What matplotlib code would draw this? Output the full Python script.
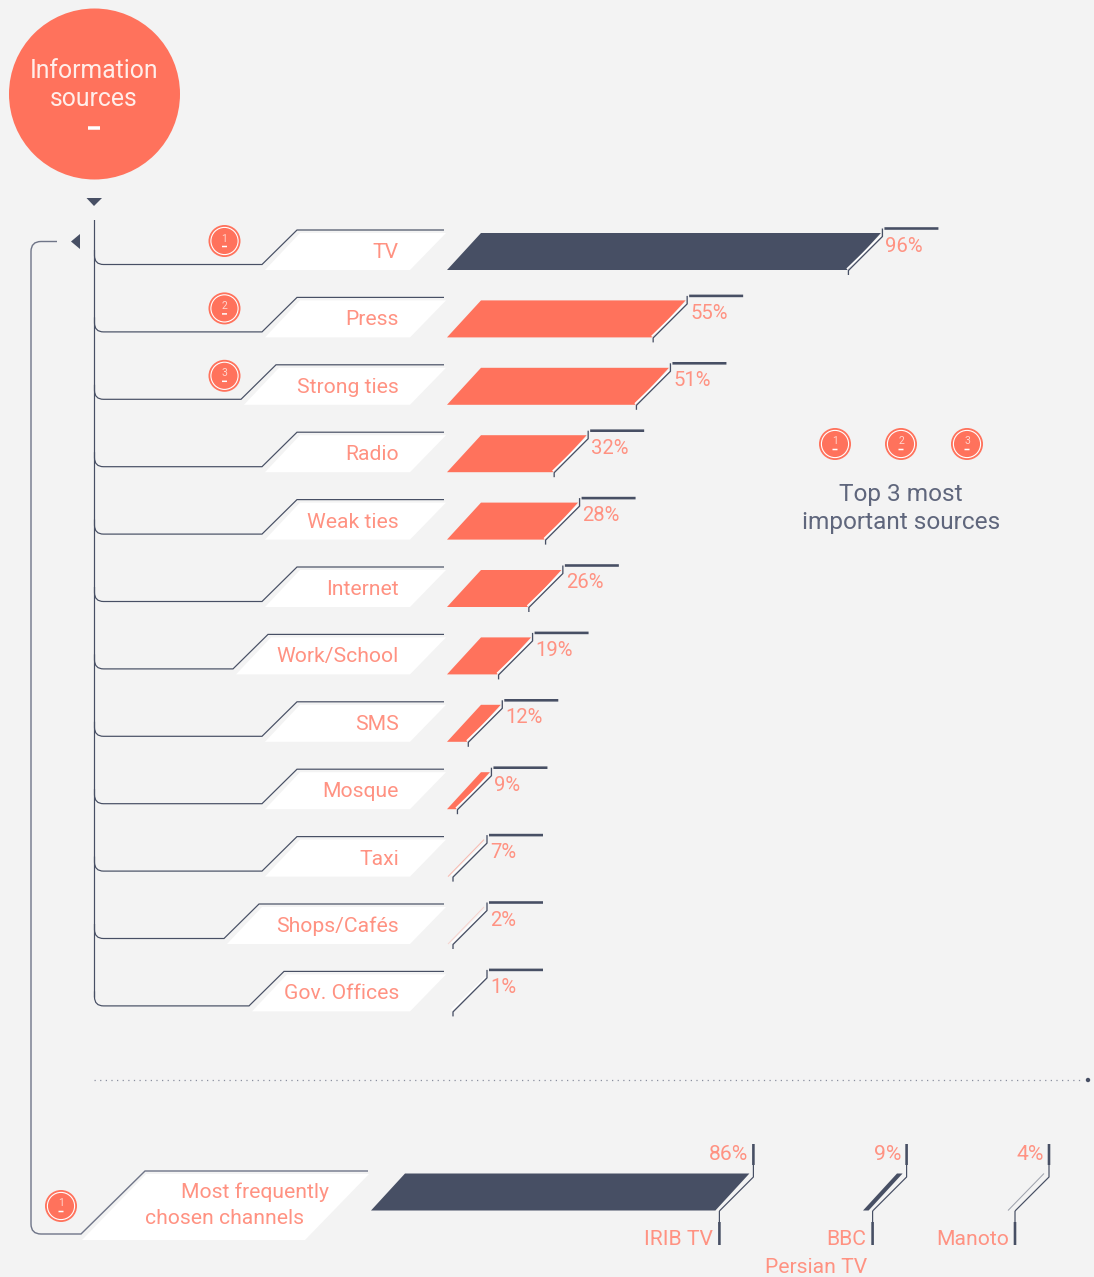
import matplotlib
matplotlib.use('Agg')
import matplotlib.pyplot as plt
from matplotlib.patches import Circle, Polygon, PathPatch
from matplotlib.path import Path

plt.rcParams['font.family'] = ['Roboto', 'DejaVu Sans']

# data
sources = ['TV', 'Press', 'Strong ties', 'Radio', 'Weak ties', 'Internet', 'Work/School',
           'SMS', 'Mosque', 'Taxi', 'Shops/Cafés', 'Gov. Offices']
source_labels = ['96%', '55%', '51%', '32%', '28%', '26%', '19%', '12%', '9%', '7%', '2%', '1%']
# bar lengths, they don't follow the labels exactly
source_lengths = [96, 52.8, 49.1, 30.9, 29.0, 25.3, 18.6, 11.9, 9.5, 7, 2, 1]
source_ranks = [1, 2, 3]

channels = ['IRIB TV', 'BBC', 'Manoto']
channel_labels = ['86%', '9%', '4%']
channel_lengths = [86, 9, 4]

# layout, pixels
PX = 0.72
BG = '#f3f3f3'
CORAL = '#ff725c'
SOFT = '#ff9282'
DARK = '#474f64'
ROW = 67.4
SLANT = 34
LABEL_SIZE = 15.2
PCT_SIZE = 14.6
plate_starts = [262, 262, 241, 262, 262, 262, 233, 262, 262, 262, 224, 249]
channel_starts = [371, 863, 1007]

fig = plt.figure(figsize=(10.94, 12.77), dpi=100, facecolor=BG)
ax = fig.add_axes([0, 0, 1, 1])
ax.set_xlim(0, 1094)
ax.set_ylim(1277, 0)
ax.axis('off')


def line(xs, ys, color=DARK, lw=1.0, alpha=1.0, z=3):
    ax.plot(xs, ys, color=color, lw=lw * PX, alpha=alpha, zorder=z, solid_capstyle='butt', snap=False)


def rounded(points, color=DARK, lw=1.2, alpha=1.0):
    # points are (x, y, corner radius) ; a corner is drawn as a quadratic curve
    verts, codes = [], []
    for i, (x, y, r) in enumerate(points):
        if r == 0:
            verts.append((x, y))
            codes.append(Path.MOVETO if i == 0 else Path.LINETO)
        else:
            px, py, _ = points[i - 1]
            nx, ny, _ = points[i + 1]
            sx = x + (r if px > x else -r if px < x else 0)
            sy = y + (r if py > y else -r if py < y else 0)
            ex = x + (r if nx > x else -r if nx < x else 0)
            ey = y + (r if ny > y else -r if ny < y else 0)
            verts += [(sx, sy), (x, y), (ex, ey)]
            codes += [Path.LINETO, Path.CURVE3, Path.CURVE3]
    ax.add_patch(PathPatch(Path(verts, codes), fc='none', ec=color, lw=lw * PX, alpha=alpha, zorder=3, snap=False))


def badge(x, y, rank):
    ax.add_patch(Circle((x, y), 16, fc=CORAL, ec='none', zorder=4))
    ax.add_patch(Circle((x, y), 13.6, fc='none', ec='white', lw=1.1 * PX, zorder=5))
    ax.text(x, y - 2.5, str(rank), color='#ffd5cd', fontsize=7.5, ha='center', va='center', zorder=6)
    line([x - 2.5, x + 2.5], [y + 5.5, y + 5.5], color='white', lw=1.5, z=6)


def bar(x0, top, length, color, thin_alpha):
    height = 37
    tip = x0 + max(length, SLANT + 4)
    if thin_alpha is None:
        ax.add_patch(Polygon([(x0, top + height), (x0 + SLANT, top), (tip, top), (tip - SLANT, top + height)],
                             closed=True, fc=color, ec='none', zorder=2))
    else:
        line([x0 + 1, tip - 1], [top + height, top], color=color, alpha=thin_alpha, z=2)
    return tip


# header
ax.add_patch(Circle((94.5, 94), 85.5, fc=CORAL, ec='none', zorder=2))
ax.text(94, 78, 'Information', color='#ffeeea', fontsize=17.8, ha='center', va='baseline', zorder=3)
ax.text(94, 106, 'sources', color='#ffeeea', fontsize=17.8, ha='center', va='baseline', zorder=3)
line([88, 100], [128, 128], color='white', lw=3.5)
ax.add_patch(Polygon([(86.5, 198), (102, 198), (94, 206)], closed=True, fc=DARK, ec='none'))
ax.add_patch(Polygon([(80, 234), (80, 249), (71, 241.5)], closed=True, fc=DARK, ec='none'))

# trunk
last_y = 264 + ROW * (len(sources) - 1)
line([94.5, 94.5], [220, last_y - 8], lw=1.2)

for i, name in enumerate(sources):
    start = plate_starts[i]
    y = ROW * i
    ax.add_patch(Polygon([(start + 3, 270 + y), (start + 38, 233 + y), (446, 233 + y), (410, 270 + y)],
                         closed=True, fc='white', ec='none', zorder=1))
    rounded([(94.5, 250 + y, 0), (94.5, 264.5 + y, 9), (start, 264.5 + y, 0),
             (start + 35, 230 + y, 0), (444, 230 + y, 0)])
    ax.text(399, 258 + y, name, color=SOFT, fontsize=LABEL_SIZE, ha='right', va='baseline', zorder=3)

    top = 233 + y
    value = source_lengths[i]
    color = DARK if i == 0 else CORAL
    thin_alpha = min(0.45, (value - 1) * 0.25) if value < 9 else None
    tip = bar(447, top, value * 4.52, color, thin_alpha)

    # callout
    upper = max(tip + 1.5, 487)
    lower = upper - 34
    line([lower - 1.5, upper - 1.5], [top + 36, top + 3], color='white', lw=1.5, z=2)
    line([lower, lower, upper, upper], [top + 42, top + 37.5, top + 3.5, top - 4.5], lw=1.3)
    line([upper + 2, upper + 56], [top - 4.5, top - 4.5], lw=2.6)
    ax.text(upper + 3, top + 18.5, source_labels[i], color=SOFT, fontsize=PCT_SIZE,
            ha='left', va='baseline', zorder=3)

for i, rank in enumerate(source_ranks):
    badge(224.5, 241 + ROW * i, rank)

# legend
for x, rank in zip([835, 901, 967], source_ranks):
    badge(x, 444, rank)
ax.text(901, 501, 'Top 3 most', color='#5f667c', fontsize=17.6, ha='center', va='baseline')
ax.text(901, 529, 'important sources', color='#5f667c', fontsize=17.6, ha='center', va='baseline')

# separator
ax.plot([94, 1084], [1080, 1080], color='#8a8f9e', lw=0.9, ls=(0, (1, 3.5)), zorder=1)
ax.add_patch(Circle((1088, 1080), 2.2, fc=DARK, ec='none'))

# channels
rounded([(57, 241.5, 0), (31, 241.5, 10), (31, 1234, 10), (81, 1234, 0), (145, 1171, 0), (368, 1171, 0)],
        color='#6f7588', lw=1.4)
ax.add_patch(Polygon([(82, 1240), (146, 1174), (369, 1174), (305, 1240)], closed=True, fc='white', ec='none', zorder=1))
ax.text(329, 1198, 'Most frequently', color=SOFT, fontsize=LABEL_SIZE, ha='right', va='baseline', zorder=3)
ax.text(304, 1224, 'chosen channels', color=SOFT, fontsize=LABEL_SIZE, ha='right', va='baseline', zorder=3)
badge(61, 1206, 1)

for i, name in enumerate(channels):
    value = channel_lengths[i]
    tip = bar(channel_starts[i], 1173.5, value * 4.4, DARK, 0.5 if value < 9 else None)
    upper = tip + 4
    lower = upper - 34
    line([lower, lower], [1211, 1222], lw=1.2)
    line([lower, lower], [1222, 1245], lw=2.6)
    line([lower, upper, upper], [1211, 1177, 1165], lw=1.2)
    line([upper, upper], [1165, 1144], lw=2.6)
    ax.text(upper - 5, 1160, channel_labels[i], color=SOFT, fontsize=LABEL_SIZE,
            ha='right', va='baseline', zorder=3)
    ax.text(lower - 6, 1245, name, color=SOFT, fontsize=LABEL_SIZE, ha='right', va='baseline', zorder=3)
ax.text(867, 1273, 'Persian TV', color=SOFT, fontsize=LABEL_SIZE, ha='right', va='baseline', zorder=3)

fig.savefig('out.png', dpi=100, facecolor=BG)
